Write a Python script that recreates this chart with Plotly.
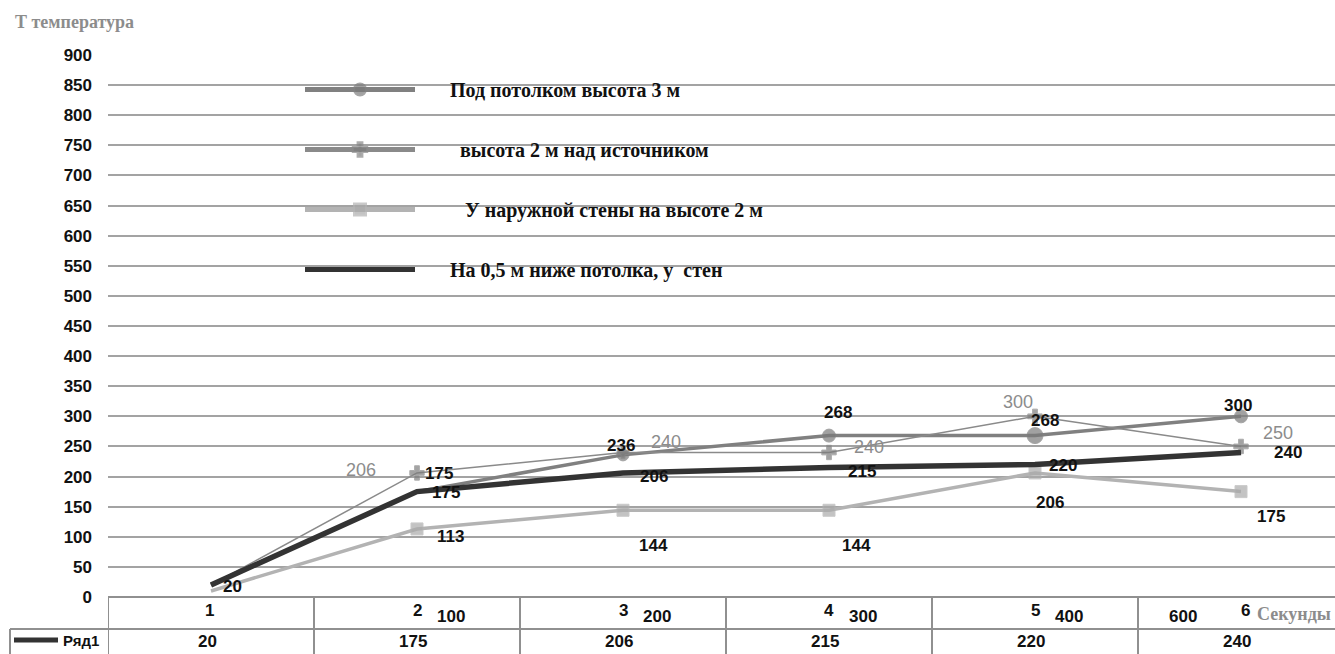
import plotly.graph_objects as go

# Categories (time steps) and secondary time labels in seconds
steps = [1, 2, 3, 4, 5, 6]
seconds = ["", "100", "200", "300", "400", "600"]

# Temperature series
under_ceiling = [20, 175, 236, 268, 268, 300]        # Под потолком высота 3 м
above_source = [20, 206, 240, 240, 300, 250]         # высота 2 м над источником
outer_wall = [10, 113, 144, 144, 206, 175]           # У наружной стены на высоте 2 м
below_ceiling = [20, 175, 206, 215, 220, 240]        # На 0,5 м ниже потолка, у стен

names = [
    "Под потолком высота 3 м",
    "высота 2 м над источником",
    "У наружной стены на высоте 2 м",
    "На 0,5 м ниже потолка, у  стен",
]

W, H = 1335, 654
L, R, T, B = 108, 0, 55, 57
PW = W - L - R
PH = H - T - B
CAT_PX = 206.0
x_range = [0.5, 0.5 + PW / CAT_PX]


def px_x(p):
    return (p - L) / PW


def px_y(p):
    return (H - B - p) / PH


SANS = "Liberation Sans"
SERIF = "Liberation Serif"
PAD = "\u00a0" * 6

# pixel offsets (dx, dy up) of each value label from its point; None = no label
lab_under = [None, (22, 18), (-2, 9), (9, 23), (10, 15), (-3, 11)]
lab_above = [None, (-56, 3), (43, 10), (40, 5), (-17, 14), (37, 13)]
lab_wall = [None, (33, -8), (30, -35), (27, -35), (15, -30), (30, -25)]
lab_below = [(21, -2), (29, -1), (31, -4), (33, -4), (28, -1), (47, 0)]

fig = go.Figure()

fig.add_trace(go.Scatter(
    x=steps, y=under_ceiling, name=PAD + names[0], legendgroup="a",
    mode="lines+markers",
    line=dict(color="#808080", width=3.5),
    marker=dict(symbol="circle", size=[0, 0, 12, 13, 16, 13], color="#7a7a7a"),
))

fig.add_trace(go.Scatter(
    x=steps, y=above_source, name=PAD + "\u00a0\u00a0" + names[1], legendgroup="b",
    mode="lines+markers",
    line=dict(color="#8a8a8a", width=1.5),
    marker=dict(symbol="cross", size=[0, 12, 10, 12, 12, 12], color="#7d7d7d"),
))

fig.add_trace(go.Scatter(
    x=steps, y=outer_wall, name=PAD + "\u00a0\u00a0\u00a0" + names[2], legendgroup="c",
    mode="lines+markers",
    line=dict(color="#b3b3b3", width=3.5),
    marker=dict(symbol="square", size=[0, 12, 12, 12, 12, 12], color="#ababab"),
))

fig.add_trace(go.Scatter(
    x=steps, y=below_ceiling, name=PAD + names[3], legendgroup="d",
    mode="lines",
    line=dict(color="#333333", width=5.5),
))

annotations = []


def add_labels(values, offsets, color, bold=True, size=17):
    for s, v, off in zip(steps, values, offsets):
        if off is None:
            continue
        annotations.append(dict(
            x=s, y=v, xref="x", yref="y", text=str(v), showarrow=False,
            xanchor="center", yanchor="middle", xshift=off[0], yshift=off[1],
            font=dict(family=SANS, size=size, color=color,
                      weight="bold" if bold else "normal"),
        ))


add_labels(below_ceiling, lab_below, "#111")
add_labels(under_ceiling, lab_under, "#111")
add_labels(above_source, lab_above, "#8c8c8c", bold=False, size=18)
add_labels(outer_wall, lab_wall, "#111")

shapes = []
line_col = "#909090"
y_row1_top = px_y(597)
y_row1_bot = px_y(629)
y_row2_bot = px_y(654)

# Data table under the plot
shapes.append(dict(type="line", xref="paper", yref="paper", x0=0, x1=1,
                   y0=y_row1_top, y1=y_row1_top, line=dict(color=line_col, width=2)))
shapes.append(dict(type="line", xref="paper", yref="paper", x0=px_x(10), x1=1,
                   y0=y_row1_bot, y1=y_row1_bot, line=dict(color=line_col, width=2)))
shapes.append(dict(type="line", xref="paper", yref="paper", x0=px_x(10), x1=px_x(10),
                   y0=y_row1_bot, y1=y_row2_bot, line=dict(color=line_col, width=2)))
for s in steps:
    shapes.append(dict(type="line", xref="x", yref="paper", x0=s - 0.5, x1=s - 0.5,
                       y0=y_row1_top, y1=y_row2_bot, line=dict(color=line_col, width=2)))
# series key in the table row
shapes.append(dict(type="line", xref="paper", yref="paper", x0=px_x(14), x1=px_x(58),
                   y0=px_y(640), y1=px_y(640), line=dict(color="#333333", width=5)))

for s, sec, v in zip(steps, seconds, below_ceiling):
    annotations.append(dict(x=s, y=px_y(610), xref="x", yref="paper", text=str(s),
                            showarrow=False, yanchor="middle", xshift=-2 if s == 1 else (4 if s == 6 else 0),
                            font=dict(family=SANS, size=17, color="#111", weight="bold")))
    annotations.append(dict(x=s, y=px_y(641), xref="x", yref="paper", text=str(v),
                            showarrow=False, yanchor="middle", xshift=-4,
                            font=dict(family=SANS, size=17, color="#111", weight="bold")))
    if sec:
        shift = -58 if sec == "600" else 34
        annotations.append(dict(x=s, y=px_y(616), xref="x", yref="paper", text=sec,
                                showarrow=False, yanchor="middle", xshift=shift,
                                font=dict(family=SANS, size=17, color="#111", weight="bold")))

annotations.append(dict(x=px_x(101), y=px_y(640), xref="paper", yref="paper", text="Ряд1",
                        showarrow=False, xanchor="right", yanchor="middle",
                        font=dict(family=SANS, size=15, color="#111", weight="bold")))
annotations.append(dict(x=px_x(1255), y=px_y(614), xref="paper", yref="paper", text="Секунды",
                        showarrow=False, xanchor="left", yanchor="middle",
                        font=dict(family=SERIF, size=18, color="#8c8c8c", weight="bold")))
annotations.append(dict(x=px_x(13), y=px_y(22), xref="paper", yref="paper", text="Т температура",
                        showarrow=False, xanchor="left", yanchor="middle",
                        font=dict(family=SERIF, size=18, color="#8c8c8c", weight="bold")))

fig.update_layout(
    width=W, height=H,
    margin=dict(l=L, r=R, t=T, b=B, pad=0),
    paper_bgcolor="white", plot_bgcolor="white",
    showlegend=True,
    legend=dict(
        x=px_x(300), y=px_y(70), xanchor="left", yanchor="top",
        bgcolor="rgba(0,0,0,0)",
        font=dict(family=SERIF, size=20, color="#111", weight="bold"),
        tracegroupgap=31, itemwidth=110, itemsizing="constant",
        traceorder="grouped",
    ),
    xaxis=dict(range=x_range, showticklabels=False, showgrid=False, zeroline=False,
               showline=False, fixedrange=True),
    yaxis=dict(range=[0, 900], dtick=50, showgrid=True, gridcolor="#a3a3a3", gridwidth=1.5,
               zeroline=False, showline=False, ticks="", ticklabelstandoff=15,
               tickfont=dict(family=SANS, size=17, color="#111", weight="bold")),
    shapes=shapes,
    annotations=annotations,
)

fig.write_html("out.html")
